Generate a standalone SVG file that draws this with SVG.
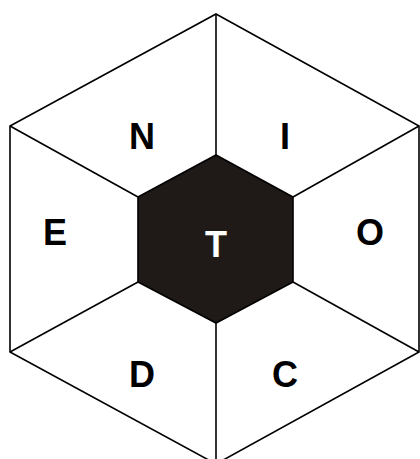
<svg xmlns="http://www.w3.org/2000/svg" width="420" height="459" viewBox="0 0 420 459">
<style>
.ln{stroke:#000;stroke-width:1.6;fill:none;stroke-linejoin:miter}
.lbl{font-family:"Liberation Sans",Arial,sans-serif;font-weight:bold;font-size:36px;text-anchor:middle}
</style>
<rect width="420" height="459" fill="#fff"/>
<g id="connectors">
<polygon class="ln" points="216,14 419,126 419,352 216,464 10,352 10,126"/>
<line class="ln" x1="216" y1="14" x2="216" y2="155"/>
<line class="ln" x1="419" y1="126" x2="293" y2="197"/>
<line class="ln" x1="419" y1="352" x2="293" y2="282"/>
<line class="ln" x1="216" y1="464" x2="216" y2="323"/>
<line class="ln" x1="10" y1="352" x2="138" y2="282"/>
<line class="ln" x1="10" y1="126" x2="138" y2="197"/>
</g>
<g id="N"><text class="lbl" x="142" y="149">N</text></g>
<g id="I"><text class="lbl" x="285" y="149">I</text></g>
<g id="E"><text class="lbl" x="55" y="245">E</text></g>
<g id="O"><text class="lbl" x="370" y="245">O</text></g>
<g id="D"><text class="lbl" x="142" y="387">D</text></g>
<g id="C"><text class="lbl" x="285" y="387">C</text></g>
<g id="T"><polygon points="216,155 293,197 293,282 216,323 138,282 138,197" fill="#1f1a17" stroke="#000" stroke-width="1.6"/><text class="lbl" x="216" y="257" fill="#fff">T</text></g>
</svg>
